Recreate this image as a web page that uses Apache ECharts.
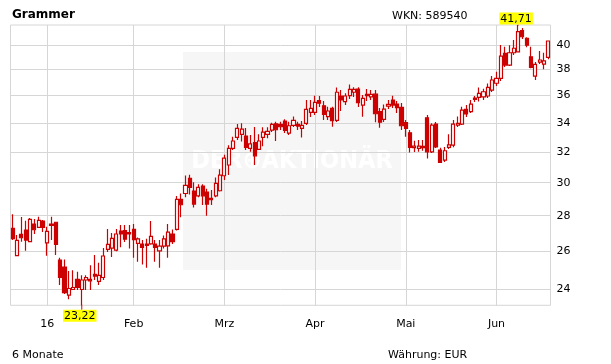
<!DOCTYPE html>
<html><head><meta charset="utf-8">
<script src="https://cdn.jsdelivr.net/npm/echarts@6/dist/echarts.min.js"></script>
<style>html,body{margin:0;padding:0;background:#fff}#c{width:611px;height:364px}</style>
</head><body><div id="c"></div>
<script>
const dates = [
'2015-12-17','2015-12-18','2015-12-21','2015-12-22','2015-12-23','2015-12-28','2015-12-29','2015-12-30',
'2016-01-04','2016-01-05','2016-01-06','2016-01-07','2016-01-08','2016-01-11','2016-01-12','2016-01-13','2016-01-14','2016-01-15','2016-01-18','2016-01-19','2016-01-20','2016-01-21','2016-01-22','2016-01-25','2016-01-26','2016-01-27','2016-01-28','2016-01-29',
'2016-02-01','2016-02-02','2016-02-03','2016-02-04','2016-02-05','2016-02-08','2016-02-09','2016-02-10','2016-02-11','2016-02-12','2016-02-15','2016-02-16','2016-02-17','2016-02-18','2016-02-19','2016-02-22','2016-02-23','2016-02-24','2016-02-25','2016-02-26','2016-02-29',
'2016-03-01','2016-03-02','2016-03-03','2016-03-04','2016-03-07','2016-03-08','2016-03-09','2016-03-10','2016-03-11','2016-03-14','2016-03-15','2016-03-16','2016-03-17','2016-03-18','2016-03-21','2016-03-22','2016-03-23','2016-03-24','2016-03-29','2016-03-30','2016-03-31',
'2016-04-01','2016-04-04','2016-04-05','2016-04-06','2016-04-07','2016-04-08','2016-04-11','2016-04-12','2016-04-13','2016-04-14','2016-04-15','2016-04-18','2016-04-19','2016-04-20','2016-04-21','2016-04-22','2016-04-25','2016-04-26','2016-04-27','2016-04-28','2016-04-29',
'2016-05-02','2016-05-03','2016-05-04','2016-05-05','2016-05-06','2016-05-09','2016-05-10','2016-05-11','2016-05-12','2016-05-13','2016-05-17','2016-05-18','2016-05-19','2016-05-20','2016-05-23','2016-05-24','2016-05-25','2016-05-26','2016-05-27','2016-05-30','2016-05-31',
'2016-06-01','2016-06-02','2016-06-03','2016-06-06','2016-06-07','2016-06-08','2016-06-09','2016-06-10','2016-06-13','2016-06-14','2016-06-15','2016-06-16','2016-06-17'
];
const open = [
27.27,25.76,26.93,27.17,26.52,27.52,27.33,27.69,26.46,27.52,27.62,25.52,25.15,23.72,24.00,24.51,24.00,24.48,24.51,24.77,24.41,24.61,26.10,26.17,26.06,
27.12,27.14,27.03,27.21,26.43,26.39,26.39,26.40,26.39,26.02,26.28,26.29,26.95,27.21,28.97,29.33,30.27,29.48,29.19,29.79,29.42,29.03,29.19,29.50,30.44,
31.13,32.23,32.98,33.19,33.07,32.23,32.63,32.17,32.98,33.19,33.49,33.93,33.89,34.13,33.28,33.82,33.89,33.61,33.96,34.75,34.75,35.61,35.23,34.44,35.04,
34.18,35.96,35.54,35.98,36.24,36.49,35.28,36.08,35.90,36.10,34.80,34.25,35.21,35.66,35.36,35.11,34.01,33.30,32.28,32.23,32.36,34.36,32.00,33.91,32.12,
31.45,32.30,32.45,33.84,33.91,34.97,34.80,35.81,35.86,35.90,35.96,36.41,36.93,37.31,39.31,38.36,39.36,39.44,41.23,40.57,39.03,37.49,38.60,38.44,38.98
];
const close = [
26.69,26.59,26.74,26.61,27.79,27.19,27.73,27.33,27.10,27.44,26.37,24.61,23.84,24.05,24.10,24.10,24.48,24.61,24.44,24.68,24.72,25.74,26.37,26.70,26.95,
26.95,26.66,26.95,26.64,26.68,26.20,26.31,26.82,26.20,26.28,26.68,27.06,26.52,28.97,28.65,29.83,29.71,28.69,29.71,29.19,28.69,28.95,29.96,30.48,31.58,
32.23,32.73,33.61,33.56,32.30,32.54,31.73,32.73,33.35,33.39,33.89,33.51,33.72,33.47,33.79,34.18,33.77,33.82,34.97,35.04,35.49,35.42,34.61,34.85,34.15,
36.24,35.66,35.96,36.46,36.46,35.46,35.78,35.98,36.08,34.65,34.04,34.99,35.33,35.28,35.09,33.79,33.61,32.30,32.38,32.38,32.28,32.00,33.84,32.33,31.30,
32.07,32.47,33.91,33.96,34.92,34.63,35.36,35.71,36.16,36.28,36.61,37.18,37.31,39.09,38.36,39.36,39.73,41.14,40.70,39.98,38.18,38.42,38.77,38.69,40.34
];
const low = [
26.61,25.76,26.52,26.02,26.52,26.95,27.30,27.07,25.75,26.61,25.79,24.22,23.78,23.51,23.98,23.97,23.22,23.97,23.97,24.48,24.22,24.48,25.95,25.68,26.00,
26.22,26.50,26.15,25.65,25.43,25.29,25.11,26.35,25.43,25.11,26.15,25.65,26.39,27.15,27.91,29.10,29.27,28.49,29.10,28.63,28.00,28.63,29.10,29.45,30.17,
30.48,32.12,32.80,32.69,32.12,32.01,31.13,32.12,32.38,32.92,33.35,32.73,33.49,33.28,33.14,33.70,33.49,32.98,33.84,34.41,34.56,35.14,34.20,34.20,33.72,
34.06,34.85,35.28,35.73,35.88,35.14,34.44,35.58,35.66,34.04,33.65,34.06,34.99,35.07,34.70,33.49,33.02,31.96,31.98,32.01,32.07,31.56,31.92,32.25,31.26,
31.32,32.19,32.31,33.70,33.84,34.41,34.70,35.51,35.54,35.66,35.81,36.26,36.72,37.10,38.20,38.28,39.17,39.40,40.51,39.81,38.10,37.18,38.44,38.02,38.83
];
const high = [
28.08,26.89,27.92,27.71,27.87,27.81,27.94,27.75,27.36,27.94,27.65,25.64,25.55,24.95,24.99,24.90,24.73,24.72,25.25,25.79,25.38,26.18,27.23,27.00,27.23,
27.46,27.46,27.46,27.52,26.76,26.61,26.68,27.69,26.61,26.61,26.87,27.52,27.21,29.18,29.33,30.46,30.50,30.03,29.91,29.91,29.62,29.54,30.33,30.85,31.80,
32.45,33.02,33.91,33.96,33.63,33.14,33.70,33.19,33.68,33.68,34.01,34.08,34.08,34.25,34.08,34.45,34.08,34.13,35.66,35.66,35.98,35.96,35.59,35.16,35.16,
36.61,36.41,36.16,36.84,36.63,36.63,36.03,36.49,36.41,36.41,35.07,35.33,35.66,35.98,35.59,35.43,34.20,33.49,32.75,32.80,32.80,34.56,33.96,34.06,32.28,
32.33,33.19,34.20,34.45,35.16,35.28,35.66,35.96,36.61,36.51,36.91,37.49,37.83,40.00,39.86,39.98,40.42,41.71,41.44,40.65,39.86,38.60,39.50,39.36,40.34
];
const monthLabels = {'2016-01-04':'16','2016-02-01':'Feb','2016-03-01':'Mrz','2016-04-01':'Apr','2016-05-02':'Mai','2016-06-01':'Jun'};
const yTicks = [24,26,28,30,32,34,36,38,40];

const data = dates.map((d,i)=>[open[i],close[i],low[i],high[i]]);
const RED = '#cc0000';
const GRID = '#d6d6d6';
const FONT = 'DejaVu Sans';
const fmt = v => Number(v).toFixed(2).replace('.', ',');

const chart = echarts.init(document.getElementById('c'), null, {renderer:'canvas'});
chart.setOption({
  animation:false,
  backgroundColor:'#ffffff',
  textStyle:{fontFamily:FONT},
  graphic:[
    {type:'rect', z:-10, silent:true, shape:{x:183, y:52, width:218, height:218}, style:{fill:'#f6f6f6'}},
    {type:'text', z:-9, silent:true, x:292, y:161, style:{text:'DER⊕AKTIONÄR', fill:'#ffffff', font:'bold 25px "DejaVu Sans Condensed", "DejaVu Sans"', align:'center', verticalAlign:'middle'}},
    {type:'text', x:12, y:14.5, style:{text:'Grammer', fill:'#000', font:'bold 12px "DejaVu Sans"', verticalAlign:'middle'}},
    {type:'text', x:392, y:16, style:{text:'WKN: 589540', fill:'#000', font:'11px "DejaVu Sans"', verticalAlign:'middle'}},
    {type:'text', x:12, y:355, style:{text:'6 Monate', fill:'#000', font:'11px "DejaVu Sans"', verticalAlign:'middle'}},
    {type:'text', x:388, y:355, style:{text:'Währung: EUR', fill:'#000', font:'11px "DejaVu Sans"', verticalAlign:'middle'}}
  ],
  grid:{left:10.5, right:60.5, top:25, bottom:58.7, show:true, borderColor:GRID, borderWidth:1, backgroundColor:'transparent'},
  xAxis:{
    type:'category', data:dates, boundaryGap:true,
    axisLine:{show:false}, axisTick:{show:false},
    axisLabel:{interval:(i,v)=>(v in monthLabels), formatter:v=>monthLabels[v]||'', margin:13, fontSize:11, color:'#000', fontFamily:FONT},
    splitLine:{show:true, interval:(i,v)=>(v in monthLabels), alignWithLabel:true, lineStyle:{color:GRID, width:1}}
  },
  yAxis:{
    type:'log', logBase:10, position:'right', min:23.22, max:41.71,
    axisLine:{show:false}, axisTick:{show:false, customValues:yTicks},
    axisLabel:{customValues:yTicks, margin:6, fontSize:11, color:'#000', fontFamily:FONT, formatter:v=>String(Math.round(v))},
    splitLine:{show:true, lineStyle:{color:GRID, width:1}}
  },
  series:[{
    type:'candlestick', data:data, barWidth:3.6,
    itemStyle:{color:'#ffffff', color0:RED, borderColor:RED, borderColor0:RED, borderWidth:1.2},
    markPoint:{
      symbol:'rect', symbolSize:[1,1], itemStyle:{color:RED},
      label:{show:true, formatter:p=>fmt(p.value), color:'#000', backgroundColor:'#ffff00', fontSize:11, fontFamily:FONT, padding:[1,1,0,1], lineHeight:11, offset:[-2,0]},
      data:[
        {type:'max', valueDim:'highest', label:{position:'top', distance:0}},
        {type:'min', valueDim:'lowest', symbolSize:[1,5], symbolOffset:[0,2], label:{position:'bottom', distance:0}}
      ]
    }
  }]
});
</script></body></html>
